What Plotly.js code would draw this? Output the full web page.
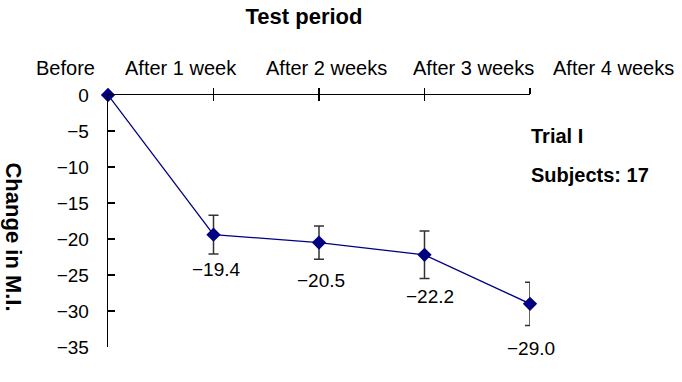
<!DOCTYPE html>
<html>
<head>
<meta charset="utf-8">
<script src="https://cdn.plot.ly/plotly-3.0.1.min.js"></script>
<style>html,body{margin:0;padding:0;background:#fff;}#chart{width:682px;height:382px;}</style>
</head>
<body>
<div id="chart"></div>
<script>
// ---- data ----
const categories = ["Before", "After 1 week", "After 2 weeks", "After 3 weeks", "After 4 weeks"];
const changeMI = [0, -19.4, -20.5, -22.2, -29.0];
const errorSD = [null, 2.7, 2.3, 3.3, 3.0];
const yTicks = [0, -5, -10, -15, -20, -25, -30, -35];
const chartTitle = "Test period";
const yTitle = "Change in M.I.";
const notes = ["Trial I", "Subjects: 17"];

// ---- layout helpers (positions/styles) ----
const catIdx = categories.map((c, i) => i);
const xRange = [0, catIdx.length - 1];
const catLabelX = [-0.40, 0.69, 2.07, 3.46, 4.79];   // label centres in axis units
const dataLabelShift = [0, -35, -38, -42, -45];      // px below point
const dataLabelXShift = [0, 3, 2, 5, 1];
const FONT = "Liberation Sans, Arial, sans-serif";

function fmt(v) { return (v < 0 ? "\u2212" : "") + Math.abs(v).toFixed(1); }
function toPaper(u) { return (u - xRange[0]) / (xRange[1] - xRange[0]); }

const trace = {
  x: catIdx, y: changeMI, type: "scatter", mode: "lines+markers",
  line: {color: "#000080", width: 1.3},
  marker: {symbol: "diamond", size: 11, color: "#000080", line: {width: 0}},
  error_y: {type: "data", array: errorSD, visible: true, color: "#333333", thickness: 1.5, width: 5},
  cliponaxis: false, hoverinfo: "skip", showlegend: false
};

const annotations = [];
categories.forEach((c, i) => annotations.push({
  text: c, x: toPaper(catLabelX[i]), xref: "paper", y: 1.107, yref: "paper",
  xanchor: "center", yanchor: "middle", showarrow: false,
  font: {family: FONT, size: 20, color: "#000"}
}));
changeMI.forEach((v, i) => { if (i > 0) annotations.push({
  text: fmt(v), x: catIdx[i], y: v, xref: "x", yref: "y",
  yshift: dataLabelShift[i], xshift: dataLabelXShift[i], showarrow: false,
  xanchor: "center", yanchor: "middle",
  font: {family: FONT, size: 19, color: "#000"}
}); });
annotations.push({
  text: "<b>" + yTitle + "</b>", textangle: 90, x: -0.223, xref: "paper", y: 0.435, yref: "paper",
  xanchor: "center", yanchor: "middle", showarrow: false,
  font: {family: FONT, size: 22, color: "#000"}
});
annotations.push({text: "<b>" + notes[0] + "</b>", x: 0.998, y: 0.839, xref: "paper", yref: "paper",
  xanchor: "left", yanchor: "middle", showarrow: false, font: {family: FONT, size: 20, color: "#000"}});
annotations.push({text: "<b>" + notes[1] + "</b>", x: 0.998, y: 0.684, xref: "paper", yref: "paper",
  xanchor: "left", yanchor: "middle", showarrow: false, font: {family: FONT, size: 20, color: "#000"}});

const layout = {
  width: 682, height: 382,
  margin: {l: 108, r: 152, t: 95, b: 35, pad: 0},
  paper_bgcolor: "#fff", plot_bgcolor: "#fff",
  title: {text: "<b>" + chartTitle + "</b>", x: 304 / 682, xanchor: "center", xref: "container",
          y: 1 - 16 / 382, yanchor: "middle", yref: "container",
          font: {family: FONT, size: 22, color: "#000"}},
  xaxis: {range: xRange, side: "top", showline: true, linecolor: "#000", linewidth: 1.3,
          ticks: "outside", ticklen: 6, tickcolor: "#000", tickwidth: 1.3,
          tickvals: catIdx.slice(1), showticklabels: false, showgrid: false, zeroline: false,
          fixedrange: true},
  xaxis2: {range: xRange, overlaying: "x", side: "top", anchor: "y", showline: false,
          ticks: "inside", ticklen: 6, tickcolor: "#000", tickwidth: 1.3,
          tickvals: catIdx.slice(1), showticklabels: false, showgrid: false, zeroline: false},
  yaxis: {range: [-35, 0], showline: true, linecolor: "#000", linewidth: 1.3,
          ticks: "inside", ticklen: 7, tickcolor: "#000", tickwidth: 1.3,
          tickvals: yTicks, ticktext: yTicks.map(v => (v < 0 ? "\u2212" : "") + Math.abs(v)),
          ticklabelstandoff: 14,
          tickfont: {family: FONT, size: 19, color: "#000"},
          showgrid: false, zeroline: false, fixedrange: true},
  annotations: annotations
};

const dummy = {x: [], y: [], xaxis: "x2", yaxis: "y", type: "scatter", mode: "markers",
               showlegend: false, hoverinfo: "skip"};

Plotly.newPlot("chart", [trace, dummy], layout, {staticPlot: true, displayModeBar: false});
</script>
</body>
</html>
